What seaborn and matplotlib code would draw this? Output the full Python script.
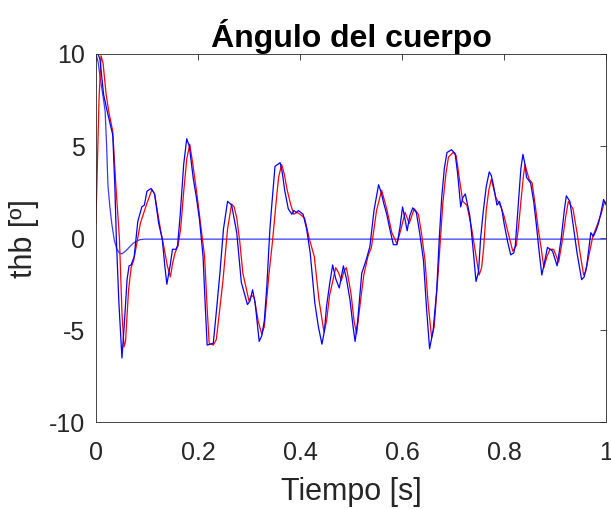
import numpy as np
import pandas as pd
import matplotlib
matplotlib.use('Agg')
import matplotlib.pyplot as plt
import seaborn as sns

t_azul = [0.000, 0.003, 0.008, 0.015, 0.022, 0.028, 0.033, 0.037, 0.040, 0.045,
          0.051, 0.056, 0.061, 0.065, 0.069, 0.075, 0.082, 0.090, 0.095, 0.100,
          0.108, 0.115, 0.123, 0.130, 0.135, 0.139, 0.146, 0.150, 0.157, 0.160,
          0.165, 0.172, 0.178, 0.183, 0.191, 0.197, 0.203, 0.210, 0.214, 0.218,
          0.230, 0.236, 0.243, 0.250, 0.258, 0.266, 0.276, 0.285, 0.297, 0.302,
          0.307, 0.312, 0.320, 0.325, 0.330, 0.335, 0.341, 0.345, 0.351, 0.361,
          0.365, 0.370, 0.377, 0.384, 0.388, 0.393, 0.397, 0.406, 0.413, 0.420,
          0.429, 0.436, 0.443, 0.448, 0.452, 0.458, 0.464, 0.470, 0.477, 0.485,
          0.491, 0.498, 0.504, 0.508, 0.513, 0.521, 0.530, 0.537, 0.545, 0.554,
          0.559, 0.564, 0.570, 0.576, 0.583, 0.590, 0.596, 0.601, 0.606, 0.610,
          0.615, 0.621, 0.628, 0.635, 0.642, 0.648, 0.654, 0.661, 0.668, 0.673,
          0.678, 0.683, 0.688, 0.697, 0.704, 0.709, 0.715, 0.719, 0.724, 0.733,
          0.739, 0.745, 0.750, 0.754, 0.759, 0.765, 0.771, 0.775, 0.779, 0.786,
          0.791, 0.796, 0.800, 0.807, 0.813, 0.819, 0.822, 0.828, 0.833, 0.837,
          0.841, 0.844, 0.852, 0.858, 0.863, 0.869, 0.874, 0.880, 0.885, 0.890,
          0.895, 0.904, 0.912, 0.918, 0.922, 0.929, 0.935, 0.943, 0.952, 0.957,
          0.962, 0.970, 0.975, 0.980, 0.985, 0.990, 0.995, 1.000]
thb_azul = [10.0, 10.1, 9.7, 7.8, 6.9, 6.2, 5.6, 2.9, 0.0, -3.5,
            -6.5, -4.5, -2.25, -1.5, -1.45, -1.0, 0.9, 1.7, 1.8, 2.55,
            2.7, 2.4, 0.8, -0.05, -1.5, -2.5, -1.4, -0.6, -0.6, -0.4,
            1.2, 4.0, 5.4, 5.0, 3.2, 2.2, 1.0, -1.0, -3.5, -5.8,
            -5.7, -4.0, -1.9, 0.5, 2.0, 1.8, 0.3, -2.4, -3.6, -3.4,
            -2.8, -3.5, -5.6, -5.3, -4.5, -2.6, 0.5, 1.9, 3.9, 4.1,
            3.6, 2.6, 1.6, 1.3, 1.5, 1.4, 1.5, 1.3, 0.5, -0.8,
            -3.5, -4.8, -5.75, -5.0, -3.7, -2.5, -1.45, -2.2, -2.7, -1.5,
            -2.2, -3.35, -4.8, -5.6, -4.5, -1.9, -1.15, -0.45, 1.5, 2.9,
            2.5, 1.9, 1.3, 0.5, -0.35, -0.35, 0.6, 1.7, 1.0, 0.4,
            1.2, 1.65, 1.4, 0.2, -1.2, -3.8, -6.0, -5.0, -2.8, 0.0,
            2.3, 3.8, 4.65, 4.8, 4.6, 3.5, 1.7, 2.2, 2.4, 1.2,
            -0.5, -2.35, -1.8, 0.0, 1.4, 2.8, 3.6, 3.4, 2.9, 1.8,
            2.0, 1.5, 0.8, -0.2, -0.9, -0.8, -0.4, 1.9, 3.8, 4.55,
            4.0, 3.3, 3.0, 2.0, 0.8, -0.8, -2.0, -1.2, -0.5, -0.6,
            -0.7, -1.5, 0.0, 1.5, 2.3, 2.0, 0.8, -0.8, -2.25, -2.1,
            -1.5, 0.3, 0.1, 0.4, 0.8, 1.4, 2.1, 1.8]

t_rojo = [0.000, 0.002, 0.006, 0.010, 0.014, 0.020, 0.025, 0.033, 0.039, 0.046,
          0.051, 0.055, 0.058, 0.064, 0.069, 0.074, 0.080, 0.087, 0.093, 0.100,
          0.110, 0.115, 0.120, 0.127, 0.133, 0.140, 0.146, 0.150, 0.155, 0.161,
          0.166, 0.172, 0.178, 0.184, 0.190, 0.197, 0.205, 0.213, 0.218, 0.222,
          0.230, 0.236, 0.242, 0.249, 0.258, 0.266, 0.271, 0.276, 0.282, 0.288,
          0.300, 0.305, 0.310, 0.318, 0.325, 0.330, 0.339, 0.346, 0.353, 0.358,
          0.364, 0.369, 0.375, 0.382, 0.388, 0.394, 0.400, 0.409, 0.418, 0.428,
          0.437, 0.447, 0.452, 0.458, 0.470, 0.476, 0.481, 0.486, 0.491, 0.500,
          0.506, 0.511, 0.516, 0.525, 0.533, 0.540, 0.550, 0.560, 0.565, 0.570,
          0.580, 0.590, 0.598, 0.606, 0.614, 0.619, 0.624, 0.632, 0.638, 0.645,
          0.651, 0.658, 0.663, 0.671, 0.680, 0.686, 0.691, 0.700, 0.706, 0.712,
          0.719, 0.727, 0.736, 0.744, 0.751, 0.756, 0.760, 0.765, 0.770, 0.775,
          0.784, 0.794, 0.800, 0.807, 0.817, 0.824, 0.829, 0.833, 0.838, 0.841,
          0.849, 0.855, 0.861, 0.867, 0.873, 0.878, 0.884, 0.890, 0.897, 0.907,
          0.915, 0.921, 0.926, 0.935, 0.943, 0.950, 0.956, 0.960, 0.965, 0.974,
          0.981, 0.990, 0.997, 1.000]
thb_rojo = [0.8, 3.0, 7.5, 9.9, 9.5, 7.8, 6.9, 5.8, 2.9, 0.0,
            -4.0, -5.9, -5.6, -2.8, -1.6, -1.2, -0.3, 0.8, 1.3, 1.9,
            2.65, 2.4, 1.55, 0.4, -0.45, -1.5, -2.1, -1.4, -0.8, -0.4,
            0.5, 2.5, 4.3, 5.1, 4.0, 2.6, 0.8, -1.0, -3.8, -5.7,
            -5.8, -5.5, -4.0, -2.3, 0.5, 1.85, 1.7, 1.1, -0.2, -1.9,
            -3.4, -3.1, -3.2, -4.5, -5.2, -4.8, -2.0, -0.2, 1.9, 3.3,
            4.0, 3.5, 2.6, 1.8, 1.3, 1.4, 1.3, 1.1, 0.0, -1.0,
            -3.3, -5.1, -4.5, -3.1, -1.6, -1.9, -2.3, -1.8, -1.6, -3.0,
            -4.5, -5.2, -4.0, -2.0, -1.0, -0.5, 1.5, 2.6, 2.1, 1.6,
            0.3, -0.3, 0.5, 1.4, 0.8, 1.2, 1.6, 1.3, 0.3, -1.2,
            -3.5, -5.4, -4.8, -1.8, 1.9, 3.5, 4.4, 4.65, 4.5, 3.3,
            2.0, 1.8, 0.6, -0.8, -2.0, -1.6, -0.5, 1.5, 2.6, 3.2,
            2.2, 1.7, 1.2, 0.4, -0.7, -0.4, 0.8, 2.0, 3.4, 4.0,
            3.2, 3.0, 1.8, 0.5, -0.6, -1.6, -1.0, -0.6, -0.6, -1.3,
            0.0, 1.2, 2.0, 1.6, 0.3, -1.0, -2.0, -1.8, -1.1, 0.1,
            0.6, 1.3, 2.0, 1.9]

# tercera curva (azul suave que se estabiliza en ~0)
t_ref = [0.000, 0.004, 0.010, 0.015, 0.018, 0.021, 0.0235, 0.027, 0.031, 0.036,
         0.041, 0.046, 0.051, 0.058, 0.065, 0.072, 0.077, 0.086, 0.095, 1.000]
thb_ref = [10.0, 9.6, 8.4, 7.5, 6.9, 5.0, 2.9, 1.8, 0.8, -0.1,
           -0.6, -0.8, -0.85, -0.7, -0.5, -0.3, -0.2, -0.08, -0.05, -0.05]

sns.set_style('white')
plt.rcParams['font.family'] = ['Liberation Sans', 'DejaVu Sans']
plt.rcParams['axes.unicode_minus'] = False

fig = plt.figure(figsize=(6.11, 5.09), dpi=100)
ax = fig.add_axes([0.157, 0.17, 0.835, 0.724])

sns.lineplot(x=t_ref, y=thb_ref, color='#3a3aff', linewidth=0.9, sort=False, ax=ax)
sns.lineplot(x=t_rojo, y=thb_rojo, color='red', linewidth=0.9, sort=False, ax=ax)
sns.lineplot(x=t_azul, y=thb_azul, color='blue', linewidth=0.9, sort=False, ax=ax)

ax.set_xlim(0, 1)
ax.set_ylim(-10, 10)
ax.set_xticks([0, 0.2, 0.4, 0.6, 0.8, 1])
ax.set_xticklabels(['0', '0.2', '0.4', '0.6', '0.8', '1'])
ax.set_yticks([-10, -5, 0, 5, 10])
ax.tick_params(direction='in', length=4, width=0.6, colors='#262626',
               labelsize=18, top=True, right=True)
ax.tick_params(axis='x', pad=13)
ax.tick_params(axis='y', pad=8)
for s in ax.spines.values():
    s.set_color('#262626')
    s.set_linewidth(0.6)

ax.set_title('Ángulo del cuerpo', fontsize=23, fontweight='bold', color='black', pad=5)
ax.set_xlabel('Tiempo [s]', fontsize=22, color='#262626', labelpad=9)
ax.set_ylabel('thb [º]', fontsize=22, color='#262626', labelpad=7)

fig.savefig('out.png', dpi=100)
